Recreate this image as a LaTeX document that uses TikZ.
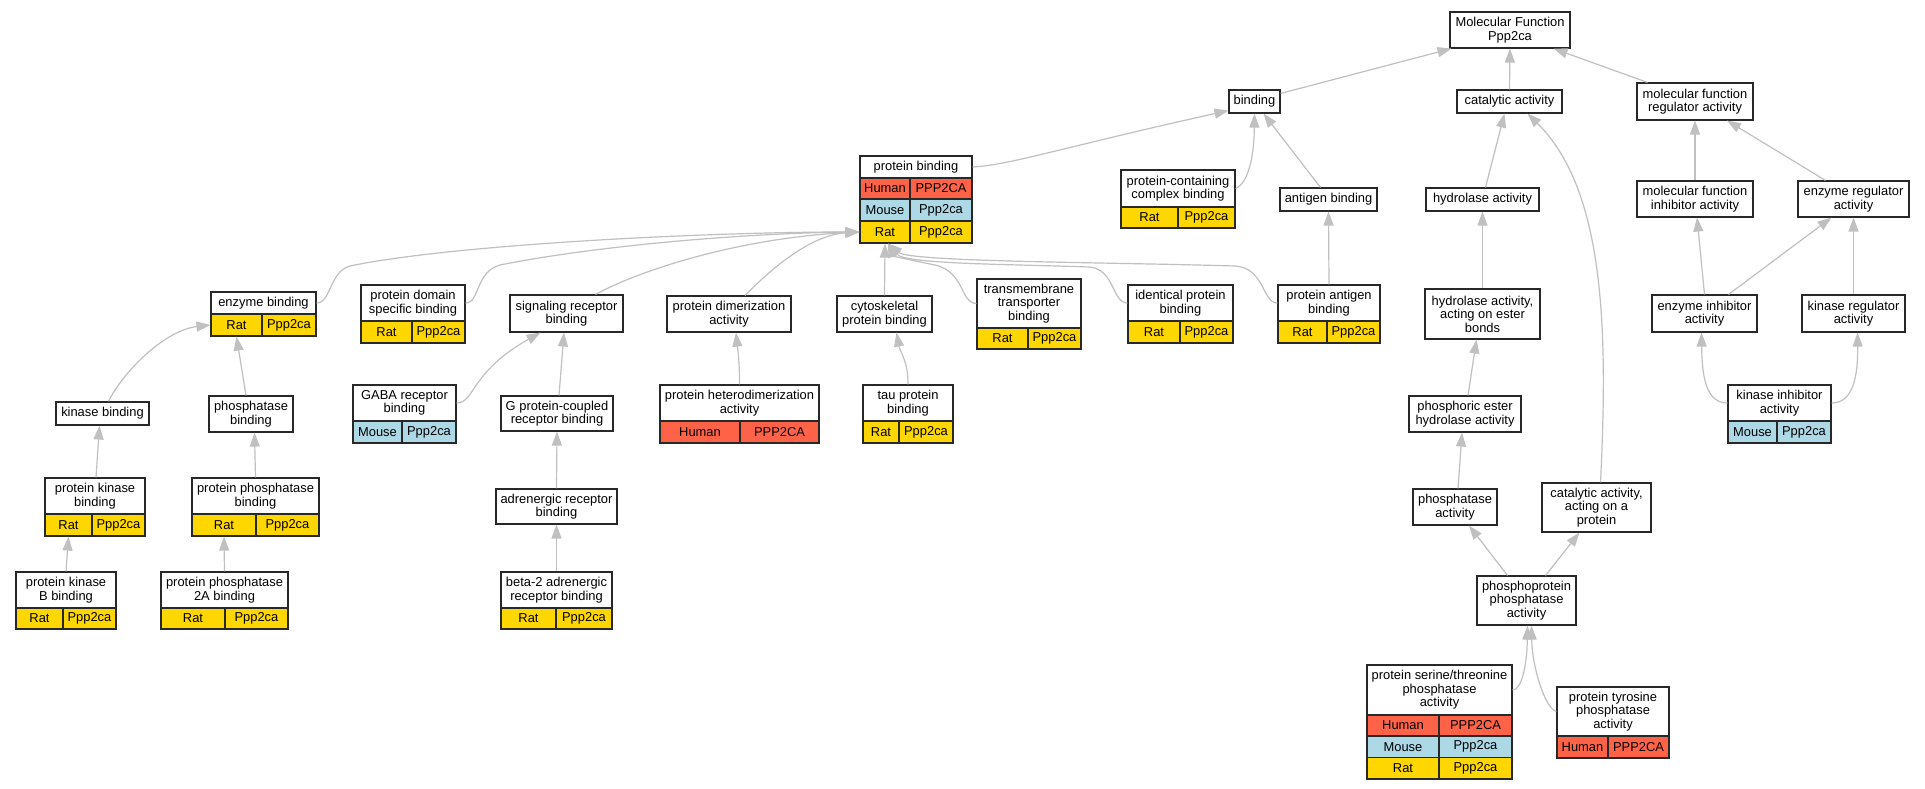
\documentclass[tikz,border=0pt]{standalone}
\usepackage{fontspec}
\setmainfont{Liberation Sans}
\usetikzlibrary{arrows.meta}
\definecolor{ratc}{RGB}{255,215,0}
\definecolor{mousec}{RGB}{173,216,230}
\definecolor{humanc}{RGB}{255,99,71}
\definecolor{edgec}{RGB}{192,192,192}
\definecolor{borderc}{RGB}{40,40,40}
\newcommand\gofont{\fontsize{12.9}{13.6}\selectfont}
\tikzset{
  gobox/.style={draw=borderc, line width=1.1pt, fill=white, inner sep=0pt, align=center, font=\gofont},
  cellbox/.style={draw=borderc, line width=1.1pt, inner sep=0pt, font=\gofont},
  goedge/.style={draw=edgec, line width=1.2pt, -{Triangle[length=14pt,width=10pt]}}
}
% name, x1, y1, x2, y2, text
\newcommand\gnode[6]{\node[gobox, minimum width={#4-#2}, minimum height={#5-#3}] (#1) at ({(#2+#4)/2},{(#3+#5)/2}) {#6};}
% name, x1, y1, x2, y2, colour, text
\newcommand\gcell[7]{\node[cellbox, fill=#6, minimum width={#4-#2}, minimum height={#5-#3}] (#1) at ({(#2+#4)/2},{(#3+#5)/2}) {#7};}
% name, x1, xsplit, x2, y1, y2, colour, left, right
\newcommand\grow[9]{\gcell{#1a}{#2}{#5}{#3}{#6}{#7}{#8}\gcell{#1b}{#3}{#5}{#4}{#6}{#7}{#9}}
\newcommand\ratrow[6]{\grow{#1}{#2}{#3}{#4}{#5}{#6}{ratc}{Rat}{Ppp2ca}}
\newcommand\mouserow[6]{\grow{#1}{#2}{#3}{#4}{#5}{#6}{mousec}{Mouse}{Ppp2ca}}
\newcommand\humanrow[6]{\grow{#1}{#2}{#3}{#4}{#5}{#6}{humanc}{Human}{PPP2CA}}
\begin{document}
\begin{tikzpicture}[x=1pt,y=-1pt]
\fill[white] (0,0) rectangle (1925,789);
\useasboundingbox (0,0) rectangle (1925,789);

% ---------- nodes ----------
\gnode{mf}{1450}{12}{1570}{48}{Molecular Function\\Ppp2ca}
\gnode{binding}{1229}{90}{1280}{113}{binding}
\gnode{cat}{1457}{90}{1562}{113}{catalytic activity}
\gnode{mfreg}{1637}{83}{1753}{120}{molecular function\\regulator activity}

\gnode{pb}{860}{156}{972}{178}{protein binding}
\humanrow{pb-r1}{860}{910}{972}{178}{199}
\mouserow{pb-r2}{860}{910}{972}{199}{221}
\ratrow{pb-r3}{860}{910}{972}{221}{243}

\gnode{pccb}{1121}{170}{1235}{207}{protein-containing\\complex binding}
\ratrow{pccb-r1}{1121}{1178}{1235}{207}{228}
\gnode{ab}{1280}{188}{1377}{211}{antigen binding}
\gnode{hyd}{1426}{188}{1539}{211}{hydrolase activity}
\gnode{mfinh}{1637}{181}{1753}{217}{molecular function\\inhibitor activity}
\gnode{enzreg}{1798}{181}{1909}{217}{enzyme regulator\\activity}
\gnode{enzinh}{1652}{295}{1757}{332}{enzyme inhibitor\\activity}
\gnode{kinreg}{1802}{295}{1905}{332}{kinase regulator\\activity}
\gnode{kininh}{1728}{385}{1831}{421}{kinase inhibitor\\activity}
\mouserow{kininh-r1}{1728}{1777}{1831}{421}{443}

\gnode{hydest}{1425}{289}{1540}{339}{hydrolase activity,\\acting on ester\\bonds}
\gnode{phest}{1409}{396}{1521}{432}{phosphoric ester\\hydrolase activity}
\gnode{phact}{1413}{489}{1497}{525}{phosphatase\\activity}
\gnode{cap}{1542}{483}{1651}{532}{catalytic activity,\\acting on a\\protein}
\gnode{ppa}{1477}{576}{1576}{625}{phosphoprotein\\phosphatase\\activity}
\gnode{pstpa}{1367}{665}{1512}{715}{protein serine/threonine\\phosphatase\\activity}
\humanrow{pstpa-r1}{1367}{1439}{1512}{715}{736}
\mouserow{pstpa-r2}{1367}{1439}{1512}{736}{757.5}
\ratrow{pstpa-r3}{1367}{1439}{1512}{757.5}{779}
\gnode{ptpa}{1557}{687}{1669}{736}{protein tyrosine\\phosphatase\\activity}
\humanrow{ptpa-r1}{1557}{1608}{1669}{736}{758}

\gnode{eb}{211}{292}{316}{314}{enzyme binding}
\ratrow{eb-r1}{211}{262}{316}{314}{336}
\gnode{pdsb}{361}{285}{465}{321}{protein domain\\specific binding}
\ratrow{pdsb-r1}{361}{412}{465}{321}{343}
\gnode{srb}{510}{295}{623}{332}{signaling receptor\\binding}
\gnode{pdim}{667}{296}{791}{332}{protein dimerization\\activity}
\gnode{cyto}{837}{296}{932}{332}{cytoskeletal\\protein binding}
\gnode{tt}{977}{279}{1081}{328}{transmembrane\\transporter\\binding}
\ratrow{tt-r1}{977}{1028}{1081}{328}{349}
\gnode{ipb}{1128}{285}{1233}{321}{identical protein\\binding}
\ratrow{ipb-r1}{1128}{1180}{1233}{321}{343}
\gnode{pab}{1278}{285}{1380}{321}{protein antigen\\binding}
\ratrow{pab-r1}{1278}{1327}{1380}{321}{343}

\gnode{kb}{56}{402}{149}{425}{kinase binding}
\gnode{phb}{209}{396}{293}{432}{phosphatase\\binding}
\gnode{gaba}{353}{385}{456}{421}{GABA receptor\\binding}
\mouserow{gaba-r1}{353}{402}{456}{421}{443}
\gnode{gpcr}{501}{396}{613}{431}{G protein-coupled\\receptor binding}
\gnode{het}{660}{385}{819}{421}{protein heterodimerization\\activity}
\humanrow{het-r1}{660}{740}{819}{421}{443}
\gnode{tau}{863}{385}{953}{421}{tau protein\\binding}
\ratrow{tau-r1}{863}{899}{953}{421}{443}

\gnode{pkb}{45}{478}{145}{514}{protein kinase\\binding}
\ratrow{pkb-r1}{45}{92}{145}{514}{536}
\gnode{ppb}{192}{478}{319}{514}{protein phosphatase\\binding}
\ratrow{ppb-r1}{192}{256}{319}{514}{536}
\gnode{adr}{496}{489}{617}{524}{adrenergic receptor\\binding}
\gnode{pkbb}{16}{572}{116}{608}{protein kinase\\B binding}
\ratrow{pkbb-r1}{16}{63}{116}{608}{629}
\gnode{pp2a}{161}{572}{288}{608}{protein phosphatase\\2A binding}
\ratrow{pp2a-r1}{161}{225}{288}{608}{629}
\gnode{b2}{501}{572}{612}{608}{beta-2 adrenergic\\receptor binding}
\ratrow{b2-r1}{501}{556}{612}{608}{629}

% ---------- edges ----------
\draw[goedge] ([yshift=-4pt]binding.north east) -- ([xshift=2pt]mf.south west);
\draw[goedge] (cat.north) -- (mf.south);
\draw[goedge] ([xshift=11pt]mfreg.north west) -- ([xshift=-17pt]mf.south east);
\draw[goedge] (pb.east) .. controls (1010,165) and (1060,148) .. ([yshift=3pt]binding.south west);
\draw[goedge] (pccb.east) .. controls (1248,183) and (1254,158) .. (binding.south);
\draw[goedge] ([xshift=-8pt]ab.north) -- ([xshift=9pt]binding.south);
\draw[goedge] ([xshift=3pt]hyd.north) -- ([xshift=-5pt]cat.south);
\draw[goedge] ([xshift=4pt]cap.north) .. controls (1608,330) and (1605,190) .. ([xshift=18pt]cat.south);
\draw[goedge] (mfinh.north) -- (mfreg.south);
\draw[goedge] ([xshift=-28pt]enzreg.north) -- ([xshift=32pt]mfreg.south);
\draw[goedge] (enzinh.north) -- ([xshift=2pt]mfinh.south);
\draw[goedge] ([xshift=24pt]enzinh.north) -- ([xshift=-22pt]enzreg.south);
\draw[goedge] (kinreg.north) -- (enzreg.south);
\draw[goedge] (kininh.west) .. controls (1706,403) and (1702,377) .. ([xshift=-3pt]enzinh.south);
\draw[goedge] (kininh.east) .. controls (1853,403) and (1858,377) .. ([xshift=4pt]kinreg.south);
\draw[goedge] (hydest.north) -- (hyd.south);
\draw[goedge] ([xshift=3pt]phest.north) -- ([xshift=-6pt]hydest.south);
\draw[goedge] ([xshift=3pt]phact.north) -- ([xshift=-3pt]phest.south);
\draw[goedge] ([xshift=-19pt]ppa.north) -- ([xshift=14pt]phact.south);
\draw[goedge] ([xshift=19pt]ppa.north) -- ([xshift=-17pt]cap.south);
\draw[goedge] (pstpa.east) .. controls (1522,690) and (1527,664) .. ([xshift=1pt]ppa.south);
\draw[goedge] (ptpa.west) .. controls (1545,709) and (1532,666) .. ([xshift=5pt]ppa.south);

\draw[goedge] ([xshift=6pt]kb.north) .. controls (124,370) and (166,330) .. (eb-r1a.west);
\draw[goedge] ([xshift=-5pt]phb.north) -- (eb-r1a.south);
\draw[goedge] ([xshift=1pt]pkb.north) -- ([xshift=-3pt]kb.south);
\draw[goedge] (ppb.north) -- ([xshift=3.5pt]phb.south);
\draw[goedge] (pkbb.north) -- (pkb-r1a.south);
\draw[goedge] (pp2a.north) -- (ppb-r1a.south);
\draw[goedge] (gaba.east) .. controls (475,403) and (470,372) .. ([xshift=-26pt]srb.south);
\draw[goedge] ([xshift=2pt]gpcr.north) -- ([xshift=-2.5pt]srb.south);
\draw[goedge] (adr.north) -- (gpcr.south);
\draw[goedge] (b2.north) -- (adr.south);
\draw[goedge] (het.north) .. controls (739.5,360) and (738,352) .. ([xshift=7pt]pdim.south);
\draw[goedge] (tau.north) .. controls (908,360) and (900.5,354) .. ([xshift=12pt]cyto.south);
\draw[goedge] (cyto.north) -- (pb-r3a.south);
\draw[goedge] (eb.east) .. controls (331,303) and (329,272) .. (350,266) .. controls (450,245) and (700,232) .. (pb-r3a.west);
\draw[goedge] (pdsb.east) .. controls (480,303) and (475,272) .. (500,265) .. controls (600,245) and (750,233) .. (pb-r3a.west);
\draw[goedge] ([xshift=29pt]srb.north) .. controls (640,270) and (740,238) .. (pb-r3a.west);
\draw[goedge] ([xshift=16pt]pdim.north) .. controls (770,270) and (810,235) .. (pb-r3a.west);
\draw[goedge] (tt.west) .. controls (960,303) and (965,272) .. (935,265) .. controls (910,260) and (893,256) .. ([xshift=3pt]pb-r3a.south);
\draw[goedge] (ipb.west) .. controls (1112,303) and (1115,270) .. (1090,267) .. controls (1000,264) and (905,264) .. ([xshift=3pt]pb-r3a.south);
\draw[goedge] (pab.west) .. controls (1262,303) and (1265,268) .. (1235,266) .. controls (1100,262) and (910,262) .. ([xshift=3pt]pb-r3a.south);
\draw[goedge] (pab.north) -- (ab.south);
\end{tikzpicture}
\end{document}
